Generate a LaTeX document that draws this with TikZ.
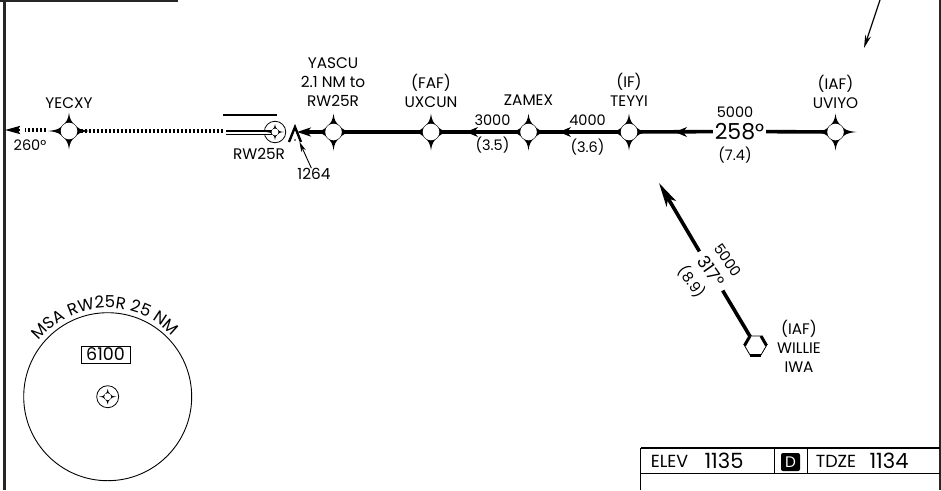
\documentclass[tikz,border=0pt]{standalone}
\usepackage{fontspec}
\setmainfont{Poppins}
\usetikzlibrary{positioning}
\usetikzlibrary{arrows.meta,decorations.text}
\newcommand{\smalltxt}{\fontsize{14.5}{18}\selectfont}
\newcommand{\wordtxt}{\fontsize{15.3}{18}\selectfont}
\newcommand{\arctxt}{\fontsize{16.6}{18}\selectfont}
\newcommand{\boxtxt}{\fontsize{17.5}{20}\selectfont}
\newcommand{\bigtxt}{\fontsize{21}{23}\selectfont}
\newcommand{\hugetxt}{\fontsize{22}{24}\selectfont}
\tikzstyle{txt} = [inner sep=0pt,align=center,font=\smalltxt]
\tikzstyle{word} = [inner sep=0pt,align=center,font=\wordtxt]
\tikzstyle{fix} = [circle,inner sep=0pt,minimum size=16pt]
\tikzstyle{leg} = [line width=3.6pt]
\tikzstyle{frame} = [line width=2.2pt,black!85]
\tikzstyle{barb} = [line width=.8pt,-{Stealth[length=12pt,width=10pt,inset=4pt]}]
\tikzstyle{ring} = [draw,circle,line width=.8pt,fill=white,inner sep=0pt,minimum size=21.5pt]
\tikzset{
  fixstar/.pic={
    \fill (0,-18.5) .. controls (1,-11) and (2.5,-9) .. (6.2,-6.2)
      .. controls (9,-2.5) and (11,-1) .. (21,0)
      .. controls (11,1) and (9,2.5) .. (6.2,6.2)
      .. controls (2.5,9) and (1,11) .. (0,18.5)
      .. controls (-1,11) and (-2.5,9) .. (-6.2,6.2)
      .. controls (-9,2.5) and (-11,1) .. (-21,0)
      .. controls (-11,-1) and (-9,-2.5) .. (-6.2,-6.2)
      .. controls (-2.5,-9) and (-1,-11) .. cycle;
    \fill[white] (0,0) circle (8.3);
  },
  hexfix/.pic={
    \draw[line width=.8pt,fill=white] (-11,0) -- (-5.5,-9.5) -- (5.5,-9.5) -- (11,0) -- (5.5,9.5) -- (-5.5,9.5) -- cycle;
    \draw[line width=3pt] (-5.5,9.5) -- (5.5,9.5);
    \draw[line width=3pt] (-11,0) -- (-5.5,-9.5);
    \draw[line width=3pt] (11,0) -- (5.5,-9.5);
  }
}

\begin{document}
\begin{tikzpicture}[x=1pt,y=-1pt]
	\useasboundingbox (0,0) rectangle (941,490);
	%Frame
	\coordinate (frameTL) at (4.5,0);
	\coordinate (frameBL) at (4.5,490);
	\coordinate (frameTR) at (178,.8);
	\coordinate (frameTO) at (0,.8);
	\coordinate (rightT) at (940,0);
	\coordinate (rightB) at (940,490);
	\draw[frame] (frameBL) -- (frameTL);
	\draw[frame] (frameTO) -- (frameTR);
	\draw[frame] (rightT) -- (rightB);
	
	%Nodes
	\node [fix] (YECXY) at (69,131) {};
	\node [fix] (YASCU) at (333.5,132) {};
	\node [fix] (UXCUN) at (431,132) {};
	\node [fix] (ZAMEX) at (528.5,132) {};
	\node [fix] (TEYYI) at (629,132) {};
	\node [fix] (UVIYO) at (835.5,132) {};
	\node [circle,inner sep=0pt,minimum size=20pt] (WILLIE) at (755.5,345.5) {};
	\node [ring] (RW) at (275,132) {};
	\node [txt,font=\hugetxt,minimum width=53pt] (crsA) at (739.5,131.5) {258°};
	\node [txt,rotate=-55,font=\boxtxt,minimum width=45pt] (crsB) at (711,271) {317°};
	
	\node [word] (lblYECXY) at (69,103) {YECXY};
	\node [word] (lblYASCU) at (333,82) {YASCU\\[1pt]2.1 NM to\\[1pt]RW25R};
	\node [word] (lblUXCUN) at (431,91) {(FAF)\\[1pt]UXCUN};
	\node [word] (lblZAMEX) at (528.5,100) {ZAMEX};
	\node [word] (lblTEYYI) at (629,90) {(IF)\\[1pt]TEYYI};
	\node [word] (lblUVIYO) at (835.5,92) {(IAF)\\[1pt]UVIYO};
	\node [word] (lblWILLIE) at (799,346.5) {(IAF)\\[1pt]WILLIE\\[1pt]IWA};
	\node [word] (lblRW) at (259,154) {RW25R};
	\node [word] (elevOb) at (314,174) {1264};
	\node [txt] (brgOut) at (30,145) {260°};
	\node [txt] (alt3000) at (492.5,120) {3000};
	\node [txt] (dist35) at (492.5,145) {(3.5)};
	\node [txt] (alt4000) at (587.5,120) {4000};
	\node [txt] (dist36) at (587.5,147) {(3.6)};
	\node [txt] (alt5000) at (735,112) {5000};
	\node [txt] (dist74) at (735,155) {(7.4)};
	\node [txt,rotate=-55] (alt5000b) at (728,260) {5000};
	\node [txt,rotate=-55] (dist89) at (692,282) {(8.9)};
	
	%Free ends
	\coordinate (outEnd) at (5,130);
	\coordinate (outHead) at (20,130);
	\coordinate (outDash) at (25,130);
	\coordinate (outDashB) at (46,130);
	\coordinate (rwEnd) at (223,131);
	\coordinate (rwA) at (226,132.7);
	\coordinate (rwB) at (273,132.7);
	\coordinate (rwTopA) at (223,115);
	\coordinate (rwTopB) at (277,115);
	\coordinate (apch) at (297,132);
	\coordinate (obTop) at (295,127);
	\coordinate (obL) at (289,142);
	\coordinate (obR) at (301,142);
	\coordinate (obTip) at (299.5,142);
	\coordinate (barbA) at (476,132);
	\coordinate (barbAt) at (466,132);
	\coordinate (barbB) at (571,132);
	\coordinate (barbBt) at (559,132);
	\coordinate (barbC) at (688,132);
	\coordinate (barbCt) at (675,132);
	\coordinate (wilTip) at (659,183);
	\coordinate (inTip) at (864,48);
	\coordinate (inTail) at (880,0);
	
	%Lines
	\draw[line width=3.4pt,dash pattern=on 2.2pt off 1.8pt] (YECXY) -- (rwEnd);
	\draw[line width=3.4pt,dash pattern=on 2.2pt off 1.8pt] (outDashB) -- (outDash);
	\draw[-{Stealth[length=15pt,width=8pt,inset=2pt]},line width=2pt] (outHead) -- (outEnd);
	\draw[line width=1.6pt,double distance=2pt] (rwA) -- (rwB);
	\draw[line width=2.2pt] (rwTopA) -- (rwTopB);
	\draw[leg] (UVIYO) -- (crsA);
	\draw[leg] (crsA) -- (TEYYI);
	\draw[leg] (TEYYI) -- (ZAMEX);
	\draw[leg] (ZAMEX) -- (UXCUN);
	\draw[leg] (UXCUN) -- (YASCU);
	\draw[leg,-{Stealth[length=14pt,width=9pt,inset=4pt]}] (YASCU) -- (apch);
	\draw[barb] (barbA) -- (barbAt);
	\draw[barb] (barbB) -- (barbBt);
	\draw[barb] (barbC) -- (barbCt);
	\draw[leg] (WILLIE) -- (crsB);
	\draw[leg,-{Stealth[length=24pt,width=11pt,inset=6pt]}] (crsB) -- (wilTip);
	\draw[line width=1.2pt,-{Stealth[length=13pt,width=6pt]}] (inTail) -- (inTip);
	
	%Obstacle
	\draw[line width=2.4pt] (obL) -- (obTop) -- (obR);
	\fill (295,140) circle (.9);
	\draw[line width=.9pt,-{Stealth[length=10pt,width=5pt]}] (elevOb) -- (obTip);
	
	%Symbols
	\pic at (YECXY) {fixstar};
	\pic at (YASCU) {fixstar};
	\pic at (UXCUN) {fixstar};
	\pic at (ZAMEX) {fixstar};
	\pic at (TEYYI) {fixstar};
	\pic at (UVIYO) {fixstar};
	\pic at (WILLIE) {hexfix};
	\pic[scale=.42] at (RW) {fixstar};
	
	%MSA
	\node [draw,circle,line width=.9pt,inner sep=0pt,minimum size=168pt] (msa) at (107.7,396.7) {};
	\node [ring,minimum size=22pt] (msaFix) at (107.7,396.7) {};
	\pic[scale=.42] at (msaFix) {fixstar};
	\node [draw,line width=.8pt,txt,font=\boxtxt,minimum width=49pt,minimum height=17pt] (msaAlt) at (105.5,354.5) {6100};
	\path[decorate,decoration={text along path,text align=center,text={|\arctxt|MSA RW25R 25 NM}}]
		(msa.center) ++(178:88.7) arc[start angle=178,end angle=358,radius=88.7];
	
	%Table
	\coordinate (tblTL) at (640.5,448);
	\coordinate (tblBL) at (640.5,490);
	\coordinate (tblTR) at (940,448);
	\coordinate (tblML) at (640.5,473.5);
	\coordinate (tblMR) at (940,473.5);
	\coordinate (sepAT) at (774,448);
	\coordinate (sepAB) at (774,474);
	\coordinate (sepBT) at (807.5,448);
	\coordinate (sepBB) at (807.5,474);
	\draw[line width=1pt] (tblBL) -- (tblTL);
	\draw[line width=1.6pt] (tblTL) -- (tblTR);
	\draw[line width=.9pt] (tblML) -- (tblMR);
	\draw[line width=.9pt] (sepAT) -- (sepAB);
	\draw[line width=.9pt] (sepBT) -- (sepBB);
	\node [word,font=\boxtxt] (elevTxt) at (669.5,461.5) {ELEV};
	\node [txt,font=\bigtxt] (elevVal) at (724,461) {1135};
	\node [fill=black,rounded corners=2pt,text=white,inner sep=0pt,minimum width=19pt,minimum height=18pt,font=\wordtxt] (rwyD) at (790.5,462) {D};
	\node [word,font=\boxtxt] (tdzeTxt) at (836,461) {TDZE};
	\node [txt,font=\bigtxt] (tdzeVal) at (889,461) {1134};
\end{tikzpicture}
\end{document}
